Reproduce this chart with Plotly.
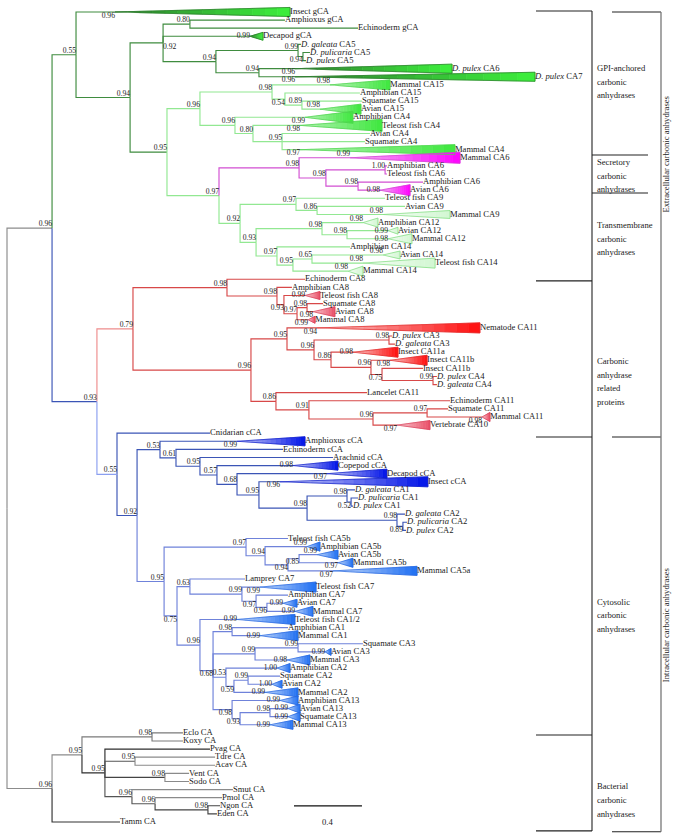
import plotly.graph_objects as go

# ---------------------------------------------------------------- data
# Internal nodes of the Bayesian tree: id, parent, depth from root (subst./site), posterior
NODE_ID = ["MAIN", "BACT", "N055", "N094", "N092", "N080", "N094b", "N099", "N094d", "N094c",
           "N095", "N096a", "N098a", "N054", "N089", "N096b", "N080b", "N095b", "N097", "N098s",
           "N098s2", "N100", "N098s3", "N092t", "N097t", "N086", "N093t", "N098t", "N098t2", "N097t2",
           "N095t", "N065", "N093", "N079", "N098r", "N098r2", "N093r", "N097r", "N098r5", "N096r",
           "N095r", "N096r2", "N098r6", "N086r2", "N096r3", "N075r", "N099r", "N086r", "N091r", "N096r4",
           "N097r2", "N055c", "N092c", "N053", "N061", "N095c1", "N057", "N068", "N095c2", "N098c",
           "N098d", "N052", "N098e", "N089c", "N095c", "N097c", "N094c1", "N094c3", "N085", "N075",
           "N063", "N099c7", "N097c7", "N096c7", "N096c", "N068c", "N098c1", "N099c3", "N099c3b", "N053c",
           "N059", "N099s2", "N098c13", "N093c13", "N098c13b", "B1", "B2", "B3", "B4", "B5",
           "B6", "B7", "B8"]
NODE_PARENT = ["ROOT", "ROOT", "MAIN", "N055", "N094", "N092", "N092", "N094b", "N099", "N094b",
               "N094", "N095", "N096a", "N098a", "N054", "N096a", "N096b", "N080b", "N095", "N097",
               "N098s", "N098s2", "N098s2", "N097", "N092t", "N097t", "N092t", "N093t", "N098t", "N093t",
               "N097t2", "N095t", "MAIN", "N093", "N079", "N098r", "N098r2", "N093r", "N097r", "N079",
               "N096r", "N095r", "N096r2", "N096r2", "N086r2", "N096r3", "N075r", "N096r", "N086r", "N091r",
               "N096r4", "N093", "N055c", "N092c", "N053", "N061", "N095c1", "N057", "N068", "N095c2",
               "N098c", "N098d", "N098c", "N098e", "N092c", "N095c", "N097c", "N094c1", "N094c3", "N095c",
               "N075", "N063", "N099c7", "N097c7", "N075", "N096c", "N068c", "N068c", "N099c3", "N068c",
               "N053c", "N059", "N068c", "N098c13", "N093c13", "BACT", "B1", "B1", "B3", "B3",
               "B3", "B6", "B7"]
NODE_DEPTH = [0.265, 0.265, 0.406, 0.724, 0.918, 1.076, 1.229, 1.712, 1.741, 1.482,
              0.941, 1.135, 1.559, 1.635, 1.735, 1.341, 1.447, 1.618, 1.247, 1.718,
              1.876, 2.224, 2.065, 1.371, 1.700, 1.824, 1.465, 1.853, 2.000, 1.588,
              1.682, 1.794, 0.529, 0.741, 1.294, 1.588, 1.629, 1.706, 1.765, 1.435,
              1.647, 1.806, 2.247, 1.906, 2.141, 2.206, 2.506, 1.582, 1.776, 2.153,
              2.471, 0.647, 0.765, 0.900, 0.994, 1.135, 1.235, 1.353, 1.482, 1.765,
              2.000, 2.024, 2.294, 2.329, 0.924, 1.406, 1.518, 1.653, 1.718, 1.000,
              1.076, 1.382, 1.465, 1.529, 1.135, 1.212, 1.324, 1.459, 1.712, 1.288,
              1.335, 1.418, 1.324, 1.371, 1.547, 0.441, 0.853, 0.576, 0.753, 0.929,
              0.735, 0.871, 1.182]
NODE_SUPPORT = ["0.96", "0.96", "0.55", "0.94", "0.92", "0.80", "0.94", "0.99", "0.94", "0.94",
                "0.95", "0.96", "0.98", "0.54", "0.89", "0.96", "0.80", "0.95", "0.97", "0.98",
                "0.98", "1.00", "0.98", "0.92", "0.97", "0.86", "0.93", "0.98", "0.98", "0.97",
                "0.95", "0.65", "0.93", "0.79", "0.98", "0.98", "0.93", "0.97", "0.98", "0.96",
                "0.95", "0.96", "0.98", "0.86", "0.96", "0.75", "0.99", "0.86", "0.91", "0.96",
                "0.97", "0.55", "0.92", "0.53", "0.61", "0.95", "0.57", "0.68", "0.95", "0.98",
                "0.98", "0.52", "0.98", "0.89", "0.95", "0.97", "0.94", "0.94", "0.85", "0.75",
                "0.63", "0.99", "0.97", "0.96", "0.96", "0.68", "0.98", "0.99", "0.99", "0.53",
                "0.59", "0.99", "0.98", "0.93", "0.98", "0.95", "0.98", "0.95", "0.95", "0.98",
                "0.96", "0.96", "0.98"]

# Tips (top to bottom)
LEAF_NAME = [
    "Insect gCA", "Amphioxus gCA", "Echinoderm gCA", "Decapod gCA",
    "<i>D. galeata</i> CA5", "<i>D. pulicaria</i> CA5", "<i>D. pulex</i> CA5",
    "<i>D. pulex</i> CA6", "<i>D. pulex</i> CA7",
    "Mammal CA15", "Amphibian CA15", "Squamate CA15", "Avian CA15", "Amphibian CA4",
    "Teleost fish CA4", "Avian CA4", "Squamate CA4", "Mammal CA4",
    "Mammal CA6", "Amphibian CA6", "Teleost fish CA6", "Amphibian CA6", "Avian CA6",
    "Teleost fish CA9", "Avian CA9", "Mammal CA9", "Amphibian CA12", "Avian CA12", "Mammal CA12",
    "Amphibian CA14", "Avian CA14", "Teleost fish CA14", "Mammal CA14",
    "Echinoderm CA8", "Amphibian CA8", "Teleost fish CA8", "Squamate CA8", "Avian CA8", "Mammal CA8",
    "Nematode CA11", "<i>D. pulex</i> CA3", "<i>D. galeata</i> CA3", "Insect CA11a", "Insect CA11b",
    "Insect CA11b", "<i>D. pulex</i> CA4", "<i>D. galeata</i> CA4", "Lancelet CA11", "Echinoderm CA11",
    "Squamate CA11", "Mammal CA11", "Vertebrate CA10",
    "Cnidarian cCA", "Amphioxus cCA", "Echinoderm cCA", "Arachnid cCA", "Copepod cCA", "Decapod cCA",
    "Insect cCA", "<i>D. galeata</i> CA1", "<i>D. pulicaria</i> CA1", "<i>D. pulex</i> CA1",
    "<i>D. galeata</i> CA2", "<i>D. pulicaria</i> CA2", "<i>D. pulex</i> CA2",
    "Teleost fish CA5b", "Amphibian CA5b", "Avian CA5b", "Mammal CA5b", "Mammal CA5a",
    "Lamprey CA7", "Teleost fish CA7", "Amphibian CA7", "Avian CA7", "Mammal CA7",
    "Teleost fish CA1/2", "Amphibian CA1", "Mammal CA1", "Squamate CA3", "Avian CA3", "Mammal CA3",
    "Amphibian CA2", "Squamate CA2", "Avian CA2", "Mammal CA2", "Amphibian CA13", "Avian CA13",
    "Squamate CA13", "Mammal CA13",
    "Eclo CA", "Koxy CA", "Pvag CA", "Tdre CA", "Acav CA", "Vent CA", "Sodo CA", "Smut CA",
    "Pmol CA", "Ngon CA", "Eden CA", "Tamm CA"]
LEAF_PARENT = [
    "N055", "N080", "N080", "N092", "N099", "N094d", "N094d", "N094c", "N094c",
    "N098a", "N054", "N089", "N089", "N096b", "N080b", "N095b", "N095b", "N095b",
    "N098s", "N100", "N100", "N098s3", "N098s3",
    "N097t", "N086", "N086", "N098t", "N098t2", "N098t2", "N097t2", "N065", "N065", "N095t",
    "N098r", "N098r2", "N093r", "N098r5", "N098r5", "N097r", "N095r", "N098r6", "N098r6", "N086r2",
    "N096r3", "N075r", "N099r", "N099r", "N086r", "N091r", "N097r2", "N097r2", "N096r4",
    "N055c", "N053", "N061", "N095c1", "N057", "N068", "N095c2", "N098d", "N052", "N052", "N098e",
    "N089c", "N089c",
    "N097c", "N094c1", "N085", "N085", "N094c3",
    "N063", "N099c7", "N097c7", "N096c7", "N096c7",
    "N096c", "N098c1", "N098c1", "N099c3b", "N099c3b", "N099c3", "N053c", "N099s2", "N099s2", "N059",
    "N098c13", "N098c13b", "N098c13b", "N093c13",
    "B2", "B2", "B3", "B4", "B4", "B5", "B5", "B6", "B7", "B8", "B8", "BACT"]
# depth of the tip (end of branch, or far edge of a collapsed clade)
LEAF_TIP = [
    1.665, 1.635, 2.065, 1.506, 1.729, 1.782, 1.759, 2.618, 3.106,
    2.253, 2.076, 2.088, 2.082, 2.035, 2.206, 2.135, 2.106, 2.635,
    2.665, 2.235, 2.235, 2.447, 2.371,
    2.224, 2.341, 2.606, 2.182, 2.300, 2.382, 2.018, 2.312, 2.518, 2.094,
    1.753, 1.676, 1.841, 1.859, 1.929, 1.812, 2.782, 2.265, 2.282, 2.300, 2.471, 2.447, 2.529, 2.529,
    2.118, 2.606, 2.594, 2.841, 2.488,
    1.194, 1.753, 1.624, 1.918, 1.947, 2.235, 2.476, 2.047, 2.065, 2.035, 2.341, 2.353, 2.347,
    1.653, 1.841, 1.947, 2.035, 2.412,
    1.400, 1.818, 1.653, 1.706, 1.800,
    1.694, 1.653, 1.712, 2.094, 1.906, 1.782, 1.665, 1.606, 1.618, 1.712, 1.712, 1.724, 1.724, 1.682,
    1.035, 1.035, 1.194, 1.224, 1.224, 1.071, 1.071, 1.329, 1.265, 1.253, 1.235, 0.665]
# collapsed clades: depth where the wedge starts (None = single sequence)
LEAF_CLADE_START = [
    0.635, None, None, 1.429, None, None, None, 1.694, 1.694,
    1.900, None, None, 1.841, 1.753, 1.724, None, None, 1.724,
    2.018, None, None, None, 2.194,
    None, None, 2.212, 2.094, 2.241, 2.241, None, 2.212, 2.094, 2.006,
    None, None, 1.753, None, 1.800, 1.771, 1.824, None, None, 2.035, 2.253, None, None, None,
    None, None, None, 2.794, 2.294,
    None, 1.353, None, None, 1.682, 1.882, 1.606, None, None, None, None, None, None,
    None, 1.765, 1.824, 1.947, 1.918,
    None, 1.488, None, 1.624, 1.694,
    1.353, None, 1.488, None, 1.871, 1.647, 1.588, None, 1.559, 1.518, 1.606, 1.653, 1.653, 1.547,
    None, None, None, None, None, None, None, None, None, None, None, None]
# half-height of each collapsed wedge, in tip rows
LEAF_CLADE_SPREAD = [
    0.56, 0, 0, 0.49, 0, 0, 0, 0.56, 0.56,
    0.62, 0, 0, 0.62, 0.74, 0.74, 0, 0, 0.62,
    0.68, 0, 0, 0, 0.68,
    0, 0, 0.49, 0.56, 0.43, 0.62, 0, 0.49, 0.62, 0.62,
    0, 0, 0.49, 0, 0.62, 0.43, 0.62, 0, 0, 0.62, 0.62, 0, 0, 0,
    0, 0, 0, 0.56, 0.56,
    0, 0.56, 0, 0, 0.56, 0.56, 0.62, 0, 0, 0, 0, 0, 0,
    0, 0.56, 0.56, 0.56, 0.56,
    0, 0.62, 0, 0.49, 0.62,
    0.62, 0, 0.62, 0, 0.43, 0.62, 0.56, 0, 0.49, 0.56, 0.56, 0.56, 0.56, 0.56,
    0, 0, 0, 0, 0, 0, 0, 0, 0, 0, 0, 0]
LEAF_SUPPORT = [
    "0.96", "", "", "0.99", "", "", "", "0.96", "0.96",
    "0.98", "", "", "0.98", "0.99", "0.98", "", "", "0.97",
    "0.99", "", "", "", "0.98",
    "", "", "0.98", "0.98", "0.99", "0.98", "", "0.98", "0.98", "0.98",
    "", "", "0.99", "", "0.98", "0.99", "0.94", "", "", "0.98", "0.98", "", "", "",
    "", "", "", "0.98", "0.97",
    "", "0.99", "", "", "0.98", "0.97", "0.96", "", "", "", "", "", "",
    "", "0.99", "0.99", "0.97", "0.97",
    "", "0.99", "", "0.99", "0.99",
    "0.99", "", "0.99", "", "0.99", "0.98", "1.00", "", "1.00", "0.99", "0.99", "0.99", "0.99", "0.99",
    "", "", "", "", "", "", "", "", "", "", "", ""]

# Classification brackets
GROUP_LINES = [["GPI-anchored", "carbonic", "anhydrases"],
               ["Secretory", "carbonic", "anhydrases"],
               ["Transmembrane", "carbonic", "anhydrases"],
               ["Carbonic", "anhydrase", "related", "proteins"],
               ["Cytosolic", "carbonic", "anhydrases"],
               ["Bacterial", "carbonic", "anhydrases"]]
GROUP_TEXT_ROW = [6.9, 18.5, 26.3, 43.1, 72.8, 95.6]
GROUP_EDGES = [-0.12, 17.65, 22.35, 33.2, 52.47, 89.26, 101.1]
SUPER_LABELS = ["Extracellular carbonic anhydrases", "Intracellular carbonic anhydrases"]
SUPER_EDGES = [0.0, 52.47, 101.2]
SUPER_TEXT_ROW = [17.6, 75.7]
SCALE_LEN = 0.4
SCALE_LABEL = "0.4"

# ---------------------------------------------------------------- style
FONT = "Liberation Serif"
LINE_COLOR = {"ROOT": "#8c8c8c", "N055": "#3f8c3f", "N096a": "#92e892", "N097": "#92e892",
              "N098s": "#d24fd2", "N093": "#3b55b6", "N079": "#ee8c8c", "N098r": "#d84848",
              "N096r": "#d84848", "N055c": "#8b9ff0", "N092c": "#3b55b6", "L52": "#3b55b6",
              "N095c": "#6f82da", "B2": "#7a7a7a", "B3": "#2e2e2e", "B4": "#555555",
              "L92": "#8a8a8a", "L93": "#8a8a8a", "B5": "#444444", "L94": "#8a8a8a",
              "L95": "#8a8a8a", "B6": "#555555", "L96": "#8a8a8a", "B7": "#555555",
              "L97": "#8a8a8a", "B8": "#444444", "L100": "#333333"}
WEDGE_FAMILY = {"N055": "gpi", "N096a": "vgreen", "N098s": "sec", "N092t": "tm",
                "N096r": "red", "N098r": "pink", "L50": "pink", "L51": "pink",
                "N053": "deep", "N095c": "blue"}
WEDGE_PALETTE = {"gpi": ("#2f7f2f", "#3cf03c", "#2b7a2b"),
                 "vgreen": ("#b5f2b5", "#3ee83e", "#4fd34f"),
                 "sec": ("#f2b6f2", "#ff00ff", "#d040d0"),
                 "tm": ("#f6fdf6", "#d2f7d2", "#7edc7e"),
                 "red": ("#f7cccc", "#ff0d0d", "#e02a2a"),
                 "pink": ("#f8ccd2", "#ea4d66", "#d9435b"),
                 "deep": ("#cfd2f7", "#0012e8", "#1020c8"),
                 "blue": ("#c6dafb", "#1f6ff2", "#2a68e0")}
PLACE = {"N092": "r", "N094d": "b", "N054": "b", "N093r": "b", "N075r": "b", "N052": "b",
         "N089c": "b", "N094c3": "b", "N085": "b", "N075": "b", "N097c7": "b", "N096c7": "b",
         "N068c": "b", "N059": "b", "N098c13": "b", "N093c13": "b",
         "L0": "b", "L7": "b", "L8": "b", "L13": "b", "L14": "b", "L17": "b", "L37": "b",
         "L38": "b", "L39": "b", "L43": "b", "L50": "b", "L51": "b", "L53": "b", "L57": "b",
         "L58": "b", "L68": "b", "L69": "b", "L71": "b",
         "L3": "m", "L22": "m", "L27": "m", "L28": "m", "L35": "m", "L42": "m", "L56": "m",
         "L73": "m", "L74": "m", "L75": "m", "L77": "m", "L79": "m", "L80": "m", "L81": "m",
         "L83": "m", "L84": "m", "L85": "m", "L86": "m", "L87": "m", "L88": "m"}
X_RANGE = [-0.0412, 3.947]
Y_RANGE = [102.1, -1.48]
W, H = 678, 839

# ---------------------------------------------------------------- build tree
depth = {"ROOT": 0.0}
children = {"ROOT": []}
for nid, par, dep in zip(NODE_ID, NODE_PARENT, NODE_DEPTH):
    depth[nid] = dep
    children.setdefault(nid, [])
for nid, par in zip(NODE_ID, NODE_PARENT):
    children[par].append(nid)
leaf_ids = ["L%d" % i for i in range(len(LEAF_NAME))]
ypos = {}
for i, lid in enumerate(leaf_ids):
    children[LEAF_PARENT[i]].append(lid)
    ypos[lid] = float(i)
    depth[lid] = LEAF_CLADE_START[i] if LEAF_CLADE_START[i] is not None else LEAF_TIP[i]


def get_y(n):
    if n not in ypos:
        ys = [get_y(c) for c in children[n]]
        ypos[n] = (min(ys) + max(ys)) / 2.0
    return ypos[n]


get_y("ROOT")

line_col, fam = {}, {}


def paint(n, c, f):
    c = LINE_COLOR.get(n, c)
    f = WEDGE_FAMILY.get(n, f)
    line_col[n], fam[n] = c, f
    for ch in children.get(n, []):
        paint(ch, c, f)


paint("ROOT", "#8c8c8c", None)

fig = go.Figure()

# branches
seg = {}
for p, chs in children.items():
    for ch in chs:
        c = line_col[ch]
        xs, ys = seg.setdefault(c, ([], []))
        xs += [depth[p], depth[p], depth[ch], None]
        ys += [ypos[p], ypos[ch], ypos[ch], None]
for c, (xs, ys) in seg.items():
    fig.add_trace(go.Scatter(x=xs, y=ys, mode="lines", line=dict(color=c, width=1.15),
                             hoverinfo="skip", showlegend=False))


def hex2rgb(h):
    h = h.lstrip("#")
    return tuple(int(h[i:i + 2], 16) for i in (0, 2, 4))


def mix(a, b, t):
    ra, rb = hex2rgb(a), hex2rgb(b)
    return "rgb(%d,%d,%d)" % tuple(round(ra[k] + (rb[k] - ra[k]) * t) for k in range(3))


# collapsed clades as shaded wedges
K = 14
polys, outlines = {}, {}
for i, lid in enumerate(leaf_ids):
    x0 = LEAF_CLADE_START[i]
    if x0 is None:
        continue
    x1, h, y = LEAF_TIP[i], LEAF_CLADE_SPREAD[i], float(i)
    c0, c1, oc = WEDGE_PALETTE[fam[lid]]
    for k in range(K):
        t0, t1 = k / K, (k + 1) / K
        col = mix(c0, c1, (t0 + t1) / 2)
        xa, xb = x0 + (x1 - x0) * t0, x0 + (x1 - x0) * t1
        xs, ys = polys.setdefault(col, ([], []))
        xs += [xa, xb, xb, xa, xa, None]
        ys += [y - h * t0, y - h * t1, y + h * t1, y + h * t0, y - h * t0, None]
    xs, ys = outlines.setdefault(oc, ([], []))
    xs += [x0, x1, x1, x0, None]
    ys += [y, y - h, y + h, y, None]
for col, (xs, ys) in polys.items():
    fig.add_trace(go.Scatter(x=xs, y=ys, mode="lines", fill="toself", fillcolor=col,
                             line=dict(color=col, width=0.6), hoverinfo="skip", showlegend=False))
for col, (xs, ys) in outlines.items():
    fig.add_trace(go.Scatter(x=xs, y=ys, mode="lines", line=dict(color=col, width=0.7),
                             hoverinfo="skip", showlegend=False))

# tip labels
fig.add_trace(go.Scatter(x=LEAF_TIP, y=[float(i) for i in range(len(LEAF_NAME))], mode="text",
                         text=LEAF_NAME, textposition="middle right",
                         textfont=dict(family=FONT, size=8.6, color="#1a1a1a"),
                         hoverinfo="skip", showlegend=False))

# support values
POS = {"a": "top left", "b": "bottom left", "m": "middle left", "r": "bottom right"}
sup = {k: ([], [], []) for k in POS}
for nid, s in zip(NODE_ID, NODE_SUPPORT):
    k = PLACE.get(nid, "a")
    sup[k][0].append(depth[nid]); sup[k][1].append(ypos[nid]); sup[k][2].append(s)
for i, lid in enumerate(leaf_ids):
    if LEAF_SUPPORT[i]:
        k = PLACE.get(lid, "a")
        sup[k][0].append(depth[lid]); sup[k][1].append(ypos[lid]); sup[k][2].append(LEAF_SUPPORT[i])
for k, (xs, ys, ts) in sup.items():
    fig.add_trace(go.Scatter(x=xs, y=ys, mode="text", text=ts, textposition=POS[k],
                             textfont=dict(family=FONT, size=7.6, color="#222222"),
                             hoverinfo="skip", showlegend=False))

# scale bar
fig.add_trace(go.Scatter(x=[1.688, 1.688 + SCALE_LEN], y=[98.0, 98.0], mode="lines",
                         line=dict(color="#111111", width=1.2), hoverinfo="skip", showlegend=False))
fig.add_annotation(x=1.688 + SCALE_LEN / 2, y=100.0, text=SCALE_LABEL, showarrow=False,
                   font=dict(family=FONT, size=8.6, color="#222222"))

# brackets
shapes = []
ix0, ix1, sx1 = 536 / W, 592 / W, 648 / W
ox0, ox1 = 612 / W, 661 / W
for j, e in enumerate(GROUP_EDGES):
    if j in (1, 2):
        shapes.append(dict(type="line", xref="paper", yref="y", x0=ix1, x1=sx1, y0=e, y1=e,
                           line=dict(color="#222222", width=1.1)))
    else:
        shapes.append(dict(type="line", xref="paper", yref="y", x0=ix0, x1=ix1, y0=e, y1=e,
                           line=dict(color="#222222", width=1.1)))
shapes.append(dict(type="line", xref="paper", yref="y", x0=ix1, x1=ix1,
                   y0=GROUP_EDGES[0], y1=GROUP_EDGES[-1], line=dict(color="#222222", width=1.1)))
for e in SUPER_EDGES:
    shapes.append(dict(type="line", xref="paper", yref="y", x0=ox0, x1=ox1, y0=e, y1=e,
                       line=dict(color="#222222", width=1.1)))
shapes.append(dict(type="line", xref="paper", yref="y", x0=ox1, x1=ox1,
                   y0=SUPER_EDGES[0], y1=SUPER_EDGES[-1], line=dict(color="#777777", width=1.3)))

for lines, row in zip(GROUP_LINES, GROUP_TEXT_ROW):
    for j, t in enumerate(lines):
        fig.add_annotation(x=595 / W, xref="paper", y=row + j * 1.69, yref="y", text=t,
                           showarrow=False, xanchor="left", yanchor="middle",
                           font=dict(family=FONT, size=8.6, color="#1a1a1a"))
for t, row in zip(SUPER_LABELS, SUPER_TEXT_ROW):
    fig.add_annotation(x=666 / W, xref="paper", y=row, yref="y", text=t, textangle=-90,
                       showarrow=False, xanchor="center", yanchor="middle",
                       font=dict(family=FONT, size=8.6, color="#1a1a1a"))

fig.update_layout(width=W, height=H, margin=dict(l=0, r=0, t=0, b=0),
                  paper_bgcolor="white", plot_bgcolor="white", shapes=shapes, showlegend=False,
                  xaxis=dict(range=X_RANGE, visible=False, fixedrange=True),
                  yaxis=dict(range=Y_RANGE, visible=False, fixedrange=True))
fig.write_html("out.html", config={"displayModeBar": False, "staticPlot": True},
               post_script="document.body.style.margin='0px';document.body.style.overflow='hidden';")
